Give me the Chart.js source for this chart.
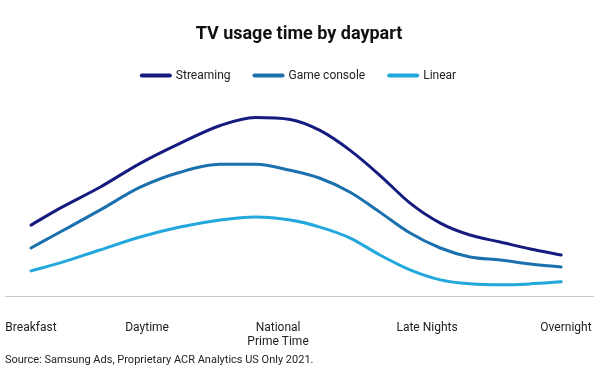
<!DOCTYPE html>
<html>
<head>
<meta charset="utf-8">
<title>TV usage time by daypart</title>
<script src="https://cdn.jsdelivr.net/npm/chart.js@4/dist/chart.umd.min.js"></script>
<style>
    html, body { margin: 0; padding: 0; background: #ffffff; }
    #wrap { width: 600px; height: 375px; }
</style>
</head>
<body>
<div id="wrap"><canvas id="usageChart" width="600" height="375"></canvas></div>
<script>
// 时段名称及其在横轴上的位置
const dayparts = ['Breakfast', 'Daytime', ['National', 'Prime Time'], 'Late Nights', 'Overnight'];
const daypartPos = [0, 21.9, 46.6, 74.7, 100.9];

// 曲线采样点位置（与时段同一坐标）
const samplePos = [0, 5.5, 13, 20.6, 28.1, 35.7, 42.3, 48.9, 54.5, 60.2, 65.8, 71.5, 77.2, 82.8, 88.5, 94.2, 100];

// 各类观看时长指数
const streaming = [72, 89, 110, 134, 154, 172, 180, 178, 167, 147, 122, 94, 74, 62, 55, 48, 42];
const gameConsole = [49, 65, 87, 110, 125, 133, 133, 127, 119, 105, 85, 64, 49, 40, 37, 33, 30];
const linear = [26, 34, 47, 60, 70, 77, 80, 77, 70, 59, 42, 27, 17, 13, 12, 13, 15];

const seriesNames = ['Streaming', 'Game console', 'Linear'];
const seriesColors = ['#161b7f', '#1b70ae', '#22a8dc'];

const fontFamily = "Roboto, 'Liberation Sans', sans-serif";

function toPoints(values) {
    return values.map(function (v, i) {
        return {x: samplePos[i], y: v};
    });
}

function makeDataset(idx, values) {
    return {
        label: seriesNames[idx],
        data: toPoints(values),
        borderColor: seriesColors[idx],
        backgroundColor: seriesColors[idx],
        borderWidth: 3,
        borderCapStyle: 'round',
        pointRadius: 0,
        pointHoverRadius: 0,
        fill: false,
        cubicInterpolationMode: 'monotone'
    };
}

new Chart(document.getElementById('usageChart').getContext('2d'), {
    type: 'line',
    data: {
        datasets: [
            makeDataset(0, streaming),
            makeDataset(1, gameConsole),
            makeDataset(2, linear)
        ]
    },
    options: {
        responsive: false,
        animation: false,
        layout: {padding: {left: 5, right: 7, top: 0, bottom: 0}},
        plugins: {
            title: {
                display: true,
                text: 'TV usage time by daypart',
                color: '#111111',
                font: {family: fontFamily, size: 18, weight: 'bold'},
                padding: {top: 24, bottom: 0}
            },
            subtitle: {
                display: true,
                position: 'bottom',
                align: 'start',
                text: 'Source: Samsung Ads, Proprietary ACR Analytics US Only 2021.',
                color: '#222222',
                font: {family: fontFamily, size: 11},
                padding: {top: 0, bottom: 8}
            },
            legend: {
                display: true,
                labels: {
                    usePointStyle: true,
                    pointStyle: 'line',
                    pointStyleWidth: 28,
                    padding: 24,
                    color: '#222222',
                    font: {family: fontFamily, size: 12},
                    generateLabels: function (chart) {
                        let items = Chart.defaults.plugins.legend.labels.generateLabels(chart);
                        items.forEach(function (it) {
                            it.lineWidth = 4;
                            it.lineCap = 'round';
                        });
                        return items;
                    }
                }
            },
            tooltip: {enabled: false}
        },
        scales: {
            x: {
                type: 'linear',
                min: -4.9,
                max: 106,
                grid: {display: false},
                border: {display: true, color: '#c9c9c9', width: 1},
                afterBuildTicks: function (axis) {
                    axis.ticks = daypartPos.map(function (p) {
                        return {value: p};
                    });
                },
                // 固定横轴高度，去掉标签溢出产生的左右留白
                afterFit: function (axis) {
                    axis.height = 57;
                    axis.paddingLeft = 0;
                    axis.paddingRight = 0;
                },
                ticks: {
                    autoSkip: false,
                    maxRotation: 0,
                    padding: 16,
                    color: '#222222',
                    font: {family: fontFamily, size: 12},
                    callback: function (value) {
                        let i = daypartPos.indexOf(value);
                        return i >= 0 ? dayparts[i] : '';
                    }
                }
            },
            y: {
                display: false,
                min: 0,
                max: 206
            }
        }
    }
});
</script>
</body>
</html>
